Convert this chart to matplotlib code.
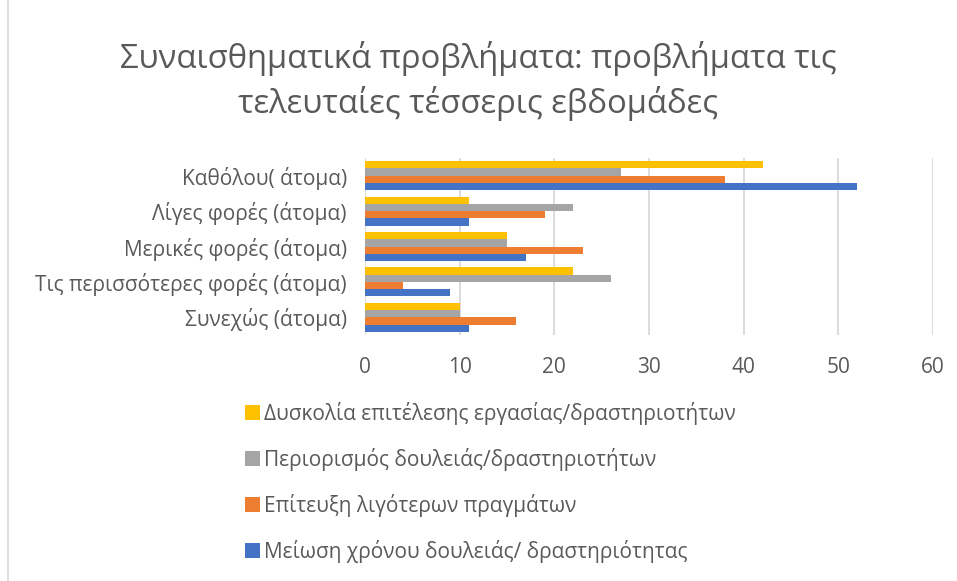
import numpy as np
import matplotlib.pyplot as plt
from matplotlib.patches import Rectangle

plt.rcParams['font.family'] = ['Open Sans', 'DejaVu Sans']

# categories listed bottom -> top, as drawn
categorias = ['Συνεχώς (άτομα)', 'Τις περισσότερες φορές (άτομα)',
              'Μερικές φορές (άτομα)', 'Λίγες φορές (άτομα)', 'Καθόλου( άτομα)']

meiosi_xronou = [11, 9, 17, 11, 52]
epiteuxi = [16, 4, 23, 19, 38]
periorismos = [10, 26, 15, 22, 27]
duskolia = [10, 22, 15, 11, 42]

seires = ['Μείωση χρόνου δουλειάς/ δραστηριότητας',
          'Επίτευξη λιγότερων πραγμάτων',
          'Περιορισμός δουλειάς/δραστηριοτήτων',
          'Δυσκολία επιτέλεσης εργασίας/δραστηριοτήτων']
xromata = ['#4472C4', '#ED7D31', '#A5A5A5', '#FFC000']
timi_ticks = [0, 10, 20, 30, 40, 50, 60]

gri = '#595959'
fs = 15

fig = plt.figure(figsize=(9.57, 5.81), dpi=100)
ax = fig.add_axes([0.3814, 0.4234, 0.5935, 0.3046])

y = np.arange(len(categorias))
h = 0.205
dedomena = [meiosi_xronou, epiteuxi, periorismos, duskolia]
bars = []
for i, (vals, lab, c) in enumerate(zip(dedomena, seires, xromata)):
    b = ax.barh(y + (i - 1.5) * h, vals, height=h, color=c, label=lab, zorder=3)
    bars.append(b)

ax.set_xlim(0, 60)
ax.set_ylim(-0.5, len(categorias) - 0.5)
ax.set_xticks(timi_ticks)
ax.set_yticks(y)
ax.set_yticklabels(categorias)
ax.tick_params(axis='both', length=0, labelsize=fs, colors=gri)
ax.tick_params(axis='x', pad=16)
ax.tick_params(axis='y', pad=13)
ax.grid(axis='x', color='#D9D9D9', linewidth=1.3, zorder=0)
for s in ax.spines.values():
    s.set_visible(False)

fig.text(0.5, 0.86, 'Συναισθηματικά προβλήματα: προβλήματα τις\nτελευταίες τέσσερις εβδομάδες',
         ha='center', va='center', fontsize=23.6, color=gri, linespacing=1.36)

# legend in reverse series order, one per row
handles = bars[::-1]
labels = seires[::-1]
leg = fig.legend(handles, labels, loc='upper left', bbox_to_anchor=(0.256, 0.308),
                 frameon=False, fontsize=fs, labelspacing=1.1, handlelength=0.72,
                 handleheight=0.72, handletextpad=0.2, borderaxespad=0, borderpad=0)
for t in leg.get_texts():
    t.set_color(gri)

# chart border
fig.patches.append(Rectangle((0.008, -0.01), 1.5, 1.5, transform=fig.transFigure,
                             fill=False, edgecolor='#D9D9D9', linewidth=1.2))

fig.savefig('out.png', dpi=100)
